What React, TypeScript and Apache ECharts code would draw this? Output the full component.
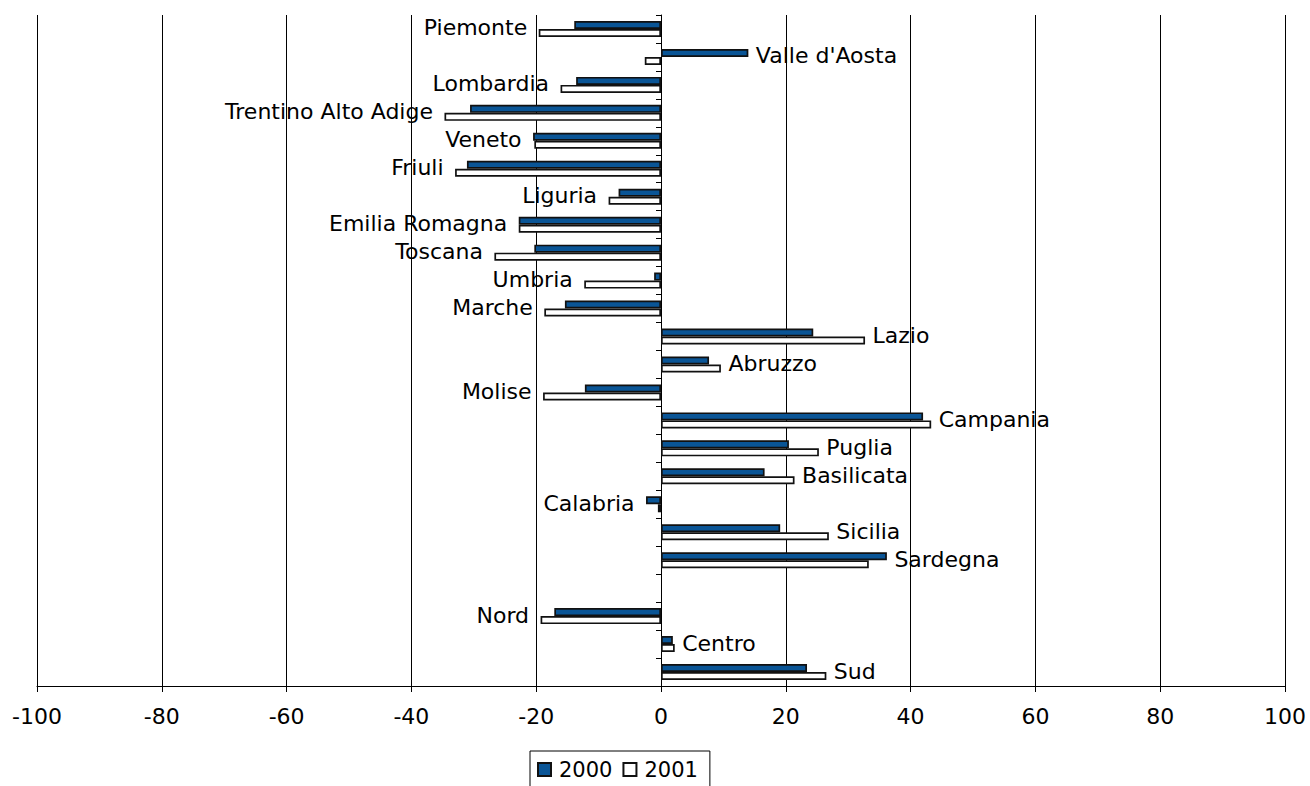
import React, { useEffect, useRef } from "react";
import * as echarts from "echarts";

const categories = [
  "Piemonte", "Valle d'Aosta", "Lombardia", "Trentino Alto Adige", "Veneto",
  "Friuli", "Liguria", "Emilia Romagna", "Toscana", "Umbria", "Marche",
  "Lazio", "Abruzzo", "Molise", "Campania", "Puglia", "Basilicata",
  "Calabria", "Sicilia", "Sardegna", "", "Nord", "Centro", "Sud",
];

const values2000 = [
  -13.9, 14.0, -13.6, -30.6, -20.5, -31.1, -6.8, -22.8, -20.3, -1.1, -15.4,
  24.4, 7.7, -12.2, 42.0, 20.5, 16.6, -2.4, 19.1, 36.2, null, -17.1, 1.9, 23.4,
];

const values2001 = [
  -19.6, -2.6, -16.1, -34.7, -20.3, -33.0, -8.4, -22.8, -26.7, -12.3, -18.7,
  32.7, 9.6, -18.9, 43.3, 25.3, 21.4, -0.5, 26.9, 33.3, null, -19.3, 2.2, 26.5,
];

const seriesNames = ["2000", "2001"];
const xTicks = { min: -100, max: 100, interval: 20 };

const FONT = "DejaVu Sans";

export default function App() {
  const ref = useRef<HTMLDivElement>(null);

  useEffect(() => {
    document.body.style.margin = "0";
    document.body.style.overflow = "hidden";
    if (!ref.current) return;
    const chart = echarts.init(ref.current, undefined, { renderer: "svg" });

    const labelData: any[] = [];
    categories.forEach((name, i) => {
      const a = values2000[i];
      const b = values2001[i];
      if (!name || a == null || b == null) return;
      const ext = Math.abs(a) >= Math.abs(b) ? a : b;
      const right = ext >= 0;
      labelData.push({
        name,
        value: [ext, i],
        label: {
          position: right ? "right" : "left",
          distance: right ? 7 : 11,
        },
      });
    });

    chart.setOption({
      animation: false,
      textStyle: { fontFamily: FONT },
      grid: { left: 37, right: 25, top: 15, bottom: 100, containLabel: false },
      legend: {
        data: seriesNames,
        left: 530,
        top: 751,
        padding: [8, 12, 20, 7],
        borderColor: "#000",
        borderWidth: 1,
        itemWidth: 13,
        itemHeight: 13,
        itemGap: 10,
        icon: "rect",
        textStyle: { fontSize: 21, color: "#000", fontFamily: FONT, padding: [0, 0, 0, 3] },
      },
      xAxis: {
        type: "value",
        min: xTicks.min,
        max: xTicks.max,
        interval: xTicks.interval,
        axisLine: { show: true, lineStyle: { color: "#000", width: 1 } },
        axisTick: { show: true, length: 6, lineStyle: { color: "#000" } },
        axisLabel: { fontSize: 22, color: "#000", margin: 19, fontFamily: FONT },
        splitLine: { show: true, lineStyle: { color: "#000", width: 1 } },
      },
      yAxis: {
        type: "category",
        inverse: true,
        data: categories,
        axisLine: { show: true, onZero: true, lineStyle: { color: "#000", width: 1 } },
        axisTick: { show: true, length: 5, interval: 0, lineStyle: { color: "#000" } },
        axisLabel: { show: false },
        splitLine: { show: false },
      },
      series: [
        {
          type: "bar",
          name: seriesNames[0],
          data: values2000,
          barWidth: 8,
          barGap: "0%",
          itemStyle: { color: "#0A5596", borderColor: "#111", borderWidth: 1.7 },
        },
        {
          type: "bar",
          name: seriesNames[1],
          data: values2001,
          barWidth: 8,
          barGap: "0%",
          itemStyle: { color: "#fff", borderColor: "#111", borderWidth: 1.7 },
        },
        {
          type: "scatter",
          name: "labels",
          data: labelData,
          symbolSize: 1,
          silent: true,
          itemStyle: { color: "rgba(0,0,0,0)" },
          label: {
            show: true,
            formatter: "{b}",
            fontSize: 22,
            color: "#000",
            opacity: 1,
            fontFamily: FONT,
            offset: [0, -1],
          },
          z: 5,
        },
      ],
    });

    return () => chart.dispose();
  }, []);

  return <div ref={ref} style={{ width: 1310, height: 786 }} />;
}
